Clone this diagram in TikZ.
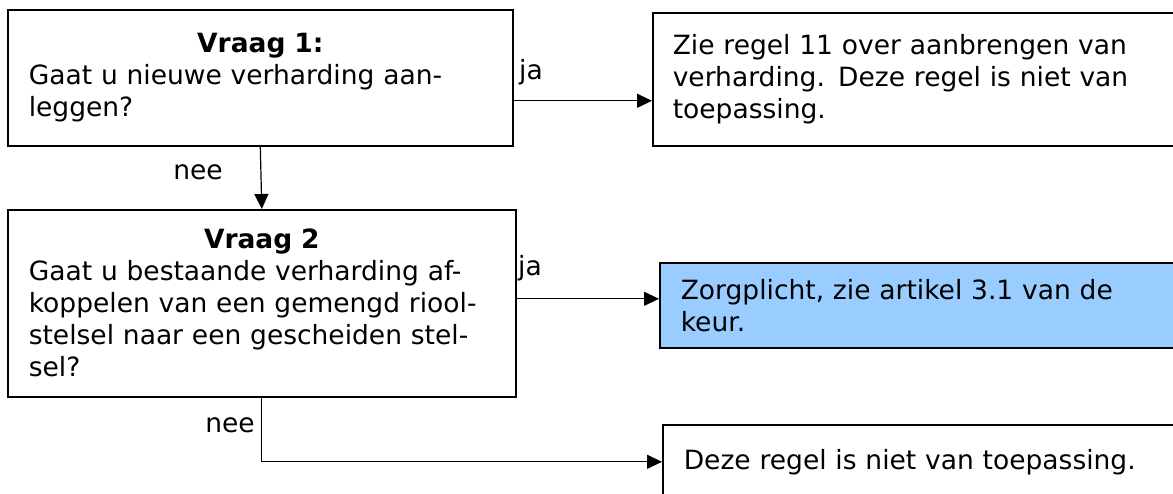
\documentclass[tikz,border=0pt]{standalone}
\usepackage{fontspec}
\setmainfont{DejaVu Sans}
\usetikzlibrary{arrows.meta}
\definecolor{zorgblue}{HTML}{99CCFF}
\begin{document}
\begin{tikzpicture}[x=1pt,y=-1pt,
  txt/.style={font=\fontsize{26.5}{32}\selectfont},
  box/.style={txt,draw,line width=1.6pt,anchor=north west,align=left,
    inner ysep=0pt},
  lbl/.style={txt,inner sep=0pt},
  arr/.style={line width=1.2pt,-{Triangle[length=15pt,width=14pt]}}]
\useasboundingbox (0,0) rectangle (1173,493);
\clip (0,0) rectangle (1173,493);

% question boxes
\node[box,inner xsep=21pt,text width=463pt,minimum height=136pt] (q1) at (7,9)
  {\makebox[\linewidth][c]{\bfseries Vraag 1:}\\
   Gaat u nieuwe verharding aan-\\leggen?};
\node[box,inner xsep=21pt,text width=466pt,minimum height=187pt] (q2) at (7,209)
  {\makebox[\linewidth][c]{\bfseries Vraag 2}\\
   Gaat u bestaande verharding af-\\
   koppelen van een gemengd riool-\\
   stelsel naar een gescheiden stel-\\
   sel?};

% outcome boxes (running off the right edge)
\node[box,inner xsep=20pt,text width=508pt,minimum height=133pt] (r1) at (652,12)
  {Zie regel 11 over aanbrengen van\\
   verharding. Deze regel is niet van\\
   toepassing.};
\node[box,fill=zorgblue,inner xsep=21pt,text width=500pt,minimum height=85pt] (r2) at (659,262)
  {Zorgplicht, zie artikel 3.1 van de\\keur.};
\node[box,inner xsep=21pt,text width=500pt,minimum height=74pt] (r3) at (662,424)
  {Deze regel is niet van toepassing.};

% connectors
\draw[arr] ([yshift=-23pt]q1.east) -- ([yshift=-23pt]q1.east -| r1.west);
\draw[arr] (q1.south) -- (q2.north);
\draw[arr] ([yshift=4.5pt]q2.east) -- ([yshift=4.5pt]q2.east -| r2.west);
\draw[arr] (q2.south) |- (r3.west);

% answer labels
\node[lbl,anchor=west] (ja1) at (519,72) {ja};
\node[lbl] (nee1) at (198,172) {nee};
\node[lbl,anchor=west] (ja2) at (518,268) {ja};
\node[lbl] (nee2) at (230,425) {nee};
\end{tikzpicture}
\end{document}
